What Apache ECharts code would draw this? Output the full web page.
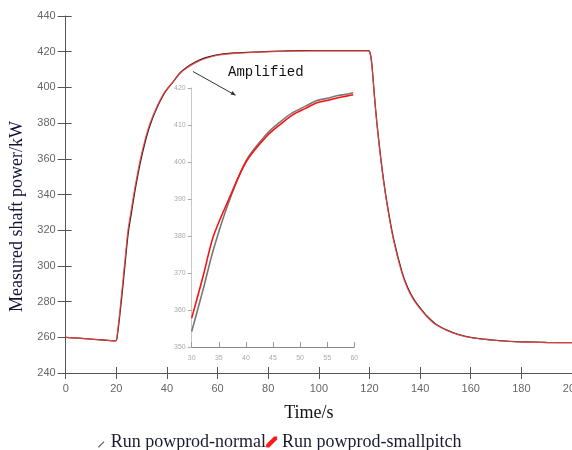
<!DOCTYPE html>
<html><head><meta charset="utf-8">
<script src="https://cdn.jsdelivr.net/npm/echarts@6/dist/echarts.min.js"></script>
<style>html,body{margin:0;padding:0;background:#fff}#c{width:572px;height:450px}</style>
</head><body><div id="c"></div>
<script>
// ---- data ----
const mainTime = [0, 5, 10, 15, 19.7, 20.4, 22.1, 23.4, 24.7, 26.1, 27.4, 29.4, 31.3, 33.3, 36, 39.2, 42.5, 45.2, 48, 51, 54.4, 58, 61, 67, 74, 84, 94, 105, 119.6, 120.4, 121, 122.3, 123.6, 125.5, 127.5, 129.5, 132.8, 135, 137.4, 140, 142.7, 146, 150.6, 155, 161, 168, 174, 182, 190, 200];
const smallpitchPower = [260, 259.5, 259, 258.5, 258, 262, 284.6, 303.3, 321, 333.2, 344.4, 359.3, 370.5, 379.9, 389.2, 397.6, 403.2, 407.9, 411, 413.6, 415.8, 417.3, 418.2, 419.1, 419.6, 420.1, 420.4, 420.5, 420.5, 418, 411.6, 389, 370.5, 348, 329.5, 314.5, 296, 287.5, 281, 276, 271.5, 267.3, 263.8, 261.5, 259.6, 258.5, 257.8, 257.3, 257.1, 257];
const normalPower = [260, 259.5, 259, 258.5, 258, 261, 282, 300.5, 318.5, 331, 342.5, 357.5, 369, 378.8, 388.5, 397.2, 403.2, 408.2, 411.4, 414, 416.2, 417.6, 418.5, 419.3, 419.8, 420.3, 420.6, 420.6, 420.6, 418.3, 412, 389.6, 371.2, 348.8, 330.4, 315.3, 296.8, 288.2, 281.6, 276.5, 271.9, 267.6, 264, 261.6, 259.7, 258.6, 257.9, 257.4, 257.1, 257];
const insetTime = [30, 32.1, 34, 36.8, 40.1, 43.8, 46.3, 48.7, 51, 53.1, 55, 56.8, 58.5, 59.8];
const insetSmallpitch = [357.8, 369.1, 379.9, 389.8, 400.2, 406.9, 410.1, 412.8, 414.5, 416, 416.6, 417.3, 417.8, 418.2];
const insetNormal = [354.2, 365.5, 376.3, 389.0, 400.5, 407.5, 410.8, 413.4, 415.1, 416.6, 417.2, 417.9, 418.3, 418.7];
const seriesNames = ['Run powprod-normal', 'Run powprod-smallpitch'];
const axisTitles = {x: 'Time/s', y: 'Measured shaft power/kW'};
const noteText = 'Amplified';

const zip = (t, v) => t.map((x, i) => [x, v[i]]);
const serif = 'Liberation Serif';
const tickFont = {color: '#666', fontSize: 11, fontFamily: 'Liberation Sans'};

const chart = echarts.init(document.getElementById('c'), null, {renderer: 'canvas'});
chart.setOption({
  animation: false,
  backgroundColor: '#fff',
  grid: [
    {left: 65.7, top: 16, right: 0, bottom: 77, containLabel: false, outerBoundsMode: 'none'},
    {left: 191.7, top: 88, width: 162.6, height: 259, containLabel: false, outerBoundsMode: 'none'}
  ],
  legend: {
    left: 91, top: 428, itemGap: 0, itemWidth: 11, itemHeight: 11,
    textStyle: {fontFamily: serif, fontSize: 18, color: '#1a1a33'},
    data: [
      {name: seriesNames[0], icon: 'path://M0,0 L0.01,0 L0,0.01 Z M2,10 L2.8,10 L7.5,5.3 L7.5,4.5 L6.7,4.5 L2,9.2 Z', itemStyle: {color: '#666'}},
      {name: seriesNames[1], icon: 'path://M0,10 L2.8,10 L10,2.8 L10,0 L7.2,0 L0,7.2 Z', itemStyle: {color: '#ff1a1a'}}
    ]
  },
  xAxis: [
    {gridIndex: 0, type: 'value', position: 'bottom', min: 0, max: 200, interval: 20,
     name: axisTitles.x, nameLocation: 'middle', nameGap: 31,
     nameTextStyle: {fontFamily: serif, fontSize: 18, color: '#111', padding: [0, 20, 0, 0]},
     axisLine: {lineStyle: {color: '#555'}}, axisTick: {length: 6, lineStyle: {color: '#555'}},
     axisLabel: Object.assign({margin: 10}, tickFont), splitLine: {show: false}},
    {gridIndex: 0, type: 'value', position: 'bottom', min: 0, max: 200, interval: 20,
     axisLine: {show: false}, axisTick: {inside: true, length: 6, lineStyle: {color: '#555'}},
     axisLabel: {show: false}, splitLine: {show: false}},
    {gridIndex: 1, type: 'value', position: 'bottom', min: 30, max: 60, interval: 5,
     axisLine: {lineStyle: {color: '#888'}}, axisTick: {inside: true, length: 5, lineStyle: {color: '#999'}},
     axisLabel: {color: '#aaa', fontSize: 7, margin: 8}, splitLine: {show: false}}
  ],
  yAxis: [
    {gridIndex: 0, type: 'value', position: 'left', min: 240, max: 440, interval: 20,
     name: axisTitles.y, nameLocation: 'middle', nameGap: 34, nameRotate: 90,
     nameTextStyle: {fontFamily: serif, fontSize: 18, color: '#14143a', padding: [0, 44, 0, 0]},
     axisLine: {show: true, lineStyle: {color: '#555'}}, axisTick: {show: true, length: 8, lineStyle: {color: '#555'}},
     axisLabel: Object.assign({margin: 10}, tickFont), splitLine: {show: false}},
    {gridIndex: 0, type: 'value', position: 'left', min: 240, max: 440, interval: 20,
     axisLine: {show: false}, axisTick: {show: true, inside: true, length: 6, lineStyle: {color: '#555'}},
     axisLabel: {show: false}, splitLine: {show: false}},
    {gridIndex: 1, type: 'value', position: 'left', min: 350, max: 420, interval: 10,
     axisLine: {show: true, lineStyle: {color: '#c8c8c8'}}, axisTick: {show: true, length: 4, lineStyle: {color: '#aaa'}},
     axisLabel: {color: '#aaa', fontSize: 7, margin: 6}, splitLine: {show: false}}
  ],
  series: [
    {name: seriesNames[0], type: 'line', xAxisIndex: 0, yAxisIndex: 0, data: zip(mainTime, normalPower),
     symbol: 'none', smooth: 0.3, lineStyle: {color: '#222', width: 1.3}, itemStyle: {color: '#666'}, z: 2},
    {name: seriesNames[1], type: 'line', xAxisIndex: 0, yAxisIndex: 0, data: zip(mainTime, smallpitchPower),
     symbol: 'none', smooth: 0.3, lineStyle: {color: '#ff4040', width: 1.2, opacity: 0.85}, itemStyle: {color: '#ff1a1a'}, z: 3},
    {name: seriesNames[0], type: 'line', xAxisIndex: 2, yAxisIndex: 2, data: zip(insetTime, insetNormal),
     symbol: 'none', smooth: 0.3, lineStyle: {color: '#777', width: 1.6}, itemStyle: {color: '#666'}, z: 2},
    {name: seriesNames[1], type: 'line', xAxisIndex: 2, yAxisIndex: 2, data: zip(insetTime, insetSmallpitch),
     symbol: 'none', smooth: 0.3, lineStyle: {color: '#ff1010', width: 1.6}, itemStyle: {color: '#ff1a1a'}, z: 3}
  ],
  graphic: [
    {type: 'text', left: 228, top: 65, style: {text: noteText, font: '14px "Liberation Mono"', fill: '#111'}},
    {type: 'line', shape: {x1: 193, y1: 71.5, x2: 235, y2: 95}, style: {stroke: '#333', lineWidth: 1}},
    {type: 'polygon', shape: {points: [[236, 95.6], [230.5, 94.5], [232.5, 91]]}, style: {fill: '#333'}}
  ]
});
</script></body></html>
